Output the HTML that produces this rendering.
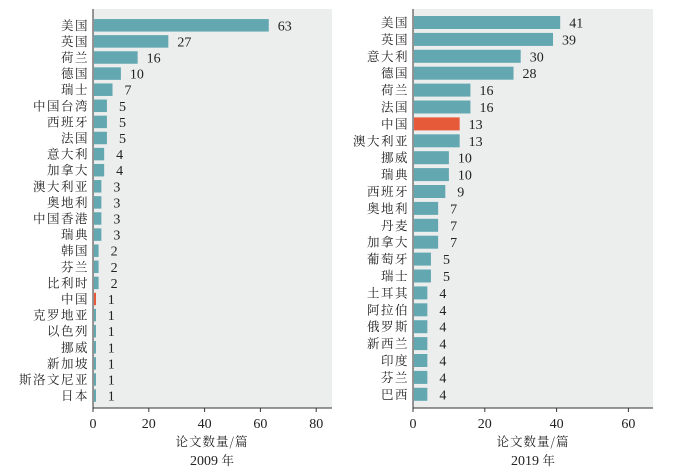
<!DOCTYPE html>
<html><head><meta charset="utf-8"><style>
body{margin:0;background:#fff;}
svg text{font-family:"Liberation Serif","Noto Serif CJK SC",serif;fill:#222;}
.c{font-family:"Noto Serif CJK SC","Liberation Serif",serif;font-size:12.5px;}
.lab{letter-spacing:1.5px;}
.n{font-size:14px;}
</style></head><body>
<svg width="700" height="471" xmlns="http://www.w3.org/2000/svg" id="s">
<rect x="93" y="9" width="239" height="399" fill="#eceeee"/>
<rect x="413" y="9" width="240" height="399" fill="#eceeee"/>
<g id="L"></g><g id="R"></g>
<line x1="93" y1="9" x2="93" y2="408" stroke="#333" stroke-width="1"/>
<line x1="93" y1="408" x2="332" y2="408" stroke="#333" stroke-width="1"/>
<line x1="413" y1="9" x2="413" y2="408" stroke="#333" stroke-width="1"/>
<line x1="413" y1="408" x2="653" y2="408" stroke="#333" stroke-width="1"/>
<text class="c" x="212" y="446" text-anchor="middle" font-size="13" style="letter-spacing:1px">论文数量/篇</text>
<text x="212" y="465" text-anchor="middle" font-size="14">2009 <tspan class="c">年</tspan></text>
<text class="c" x="533" y="446" text-anchor="middle" font-size="13" style="letter-spacing:1px">论文数量/篇</text>
<text x="533" y="465" text-anchor="middle" font-size="14">2019 <tspan class="c">年</tspan></text>
</svg>
<script>
const NS="http://www.w3.org/2000/svg";
function el(p,t,a,txt){const e=document.createElementNS(NS,t);for(const k in a)e.setAttribute(k,a[k]);if(txt!==undefined)e.textContent=txt;p.appendChild(e);return e;}
function panel(g,x0,sc,y0,sp,bh,data,ticks,red){
 const G=document.getElementById(g);
 data.forEach((d,i)=>{const cy=y0+i*sp;
  el(G,'rect',{x:x0+1,y:cy-bh/2,width:Math.max(d[1]*sc-1,2),height:bh,fill:d[0]===red?'#e65a3a':'#63a8b1'});
  el(G,'text',{class:'c lab',x:x0-4,y:cy+4.5,'text-anchor':'end'},d[0]);
  el(G,'text',{class:'n',x:x0+d[1]*sc+(d[1]<10?12:9),y:cy+5},String(d[1]));
 });
 ticks.forEach(t=>{const x=x0+t*sc;el(G,'line',{x1:x,y1:408,x2:x,y2:412,stroke:'#333'});
  el(G,'text',{class:'n',x:x,y:428,'text-anchor':'middle'},String(t));});
}
panel('L',93,2.79,25.3,16.1,12.5,[["美国",63],["英国",27],["荷兰",16],["德国",10],["瑞士",7],["中国台湾",5],["西班牙",5],["法国",5],["意大利",4],["加拿大",4],["澳大利亚",3],["奥地利",3],["中国香港",3],["瑞典",3],["韩国",2],["芬兰",2],["比利时",2],["中国",1],["克罗地亚",1],["以色列",1],["挪威",1],["新加坡",1],["斯洛文尼亚",1],["日本",1]],[0,20,40,60,80],"中国");
panel('R',413,3.59,22.5,16.9,13,[["美国",41],["英国",39],["意大利",30],["德国",28],["荷兰",16],["法国",16],["中国",13],["澳大利亚",13],["挪威",10],["瑞典",10],["西班牙",9],["奥地利",7],["丹麦",7],["加拿大",7],["葡萄牙",5],["瑞士",5],["土耳其",4],["阿拉伯",4],["俄罗斯",4],["新西兰",4],["印度",4],["芬兰",4],["巴西",4]],[0,20,40,60],"中国");
</script>
</body></html>
